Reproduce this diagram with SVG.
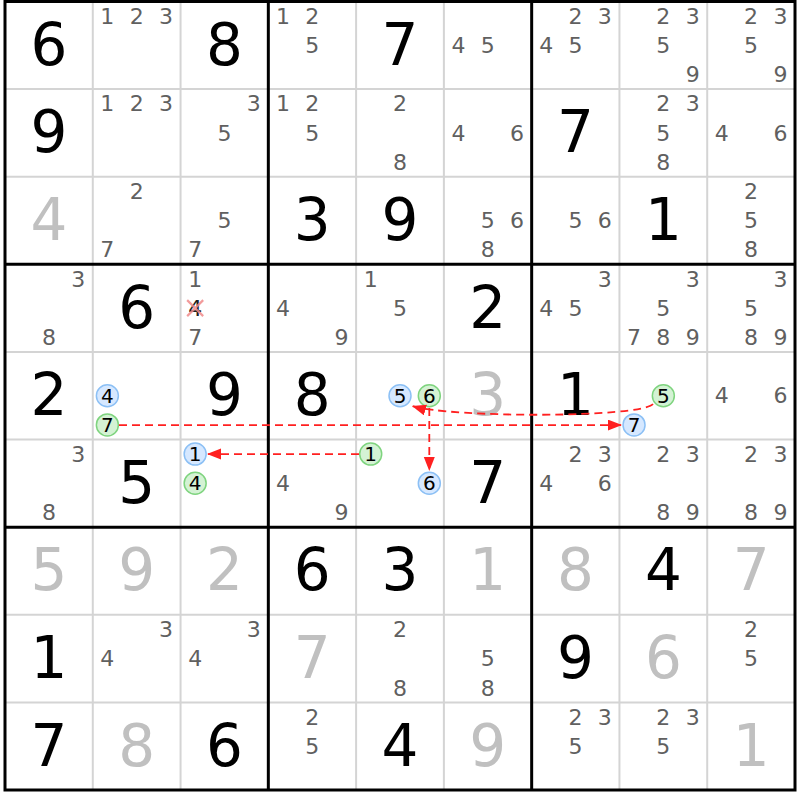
<svg xmlns="http://www.w3.org/2000/svg" width="800" height="800" viewBox="0 0 800 800">
<defs>
<style>
text{font-family:"DejaVu Sans","Liberation Sans",sans-serif;text-anchor:middle}
.g{font-size:58px;fill:#000}
.s{font-size:58px;fill:#c0c0c0}
.c{font-size:22px;fill:#606060}
.cc{font-size:20px;fill:#000}
.thin{stroke:#d4d4d4;stroke-width:2}
.thick{stroke:#000;stroke-width:3}
.blue{fill:#d6e8ff;stroke:#8cc0f5;stroke-width:1.5}
.green{fill:#d4f2d4;stroke:#7fd47f;stroke-width:1.5}
.link{fill:none;stroke:#ff2020;stroke-width:1.8;stroke-dasharray:8 5;marker-end:url(#ah)}
</style>
<marker id="ah" markerUnits="userSpaceOnUse" markerWidth="15" markerHeight="12" refX="14" refY="5.5" orient="auto"><path d="M0,0 L14,5.5 L0,11 z" fill="#ff2020"/></marker>
</defs>
<rect width="800" height="800" fill="#fff"/>
<g id="grid-thin" class="thin">
<line x1="92.78" y1="1.5" x2="92.78" y2="790"/><line x1="180.56" y1="1.5" x2="180.56" y2="790"/>
<line x1="356.11" y1="1.5" x2="356.11" y2="790"/><line x1="443.89" y1="1.5" x2="443.89" y2="790"/>
<line x1="619.44" y1="1.5" x2="619.44" y2="790"/><line x1="707.22" y1="1.5" x2="707.22" y2="790"/>
<line x1="5" y1="89.1" x2="795" y2="89.1"/><line x1="5" y1="176.7" x2="795" y2="176.7"/>
<line x1="5" y1="351.9" x2="795" y2="351.9"/><line x1="5" y1="439.5" x2="795" y2="439.5"/>
<line x1="5" y1="614.8" x2="795" y2="614.8"/><line x1="5" y1="702.4" x2="795" y2="702.4"/>
</g>
<g id="grid-thick" class="thick">
<line x1="268.33" y1="1.5" x2="268.33" y2="790"/><line x1="531.67" y1="1.5" x2="531.67" y2="790"/>
<line x1="5" y1="264.3" x2="795" y2="264.3"/><line x1="5" y1="527.2" x2="795" y2="527.2"/>
<rect x="5" y="1.5" width="790" height="788.5" fill="none"/>
</g>

<!-- Row 0 -->
<g id="r0c0" transform="translate(5,1.5)"><text class="g" x="43.9" y="63.3">6</text></g>
<g id="r0c1" transform="translate(92.78,1.5)"><text class="c" x="14.6" y="22.4">1</text><text class="c" x="43.9" y="22.4">2</text><text class="c" x="73.2" y="22.4">3</text></g>
<g id="r0c2" transform="translate(180.56,1.5)"><text class="g" x="43.9" y="63.3">8</text></g>
<g id="r0c3" transform="translate(268.33,1.5)"><text class="c" x="14.6" y="22.4">1</text><text class="c" x="43.9" y="22.4">2</text><text class="c" x="43.9" y="51.6">5</text></g>
<g id="r0c4" transform="translate(356.11,1.5)"><text class="g" x="43.9" y="63.3">7</text></g>
<g id="r0c5" transform="translate(443.89,1.5)"><text class="c" x="14.6" y="51.6">4</text><text class="c" x="43.9" y="51.6">5</text></g>
<g id="r0c6" transform="translate(531.67,1.5)"><text class="c" x="43.9" y="22.4">2</text><text class="c" x="73.2" y="22.4">3</text><text class="c" x="14.6" y="51.6">4</text><text class="c" x="43.9" y="51.6">5</text></g>
<g id="r0c7" transform="translate(619.44,1.5)"><text class="c" x="43.9" y="22.4">2</text><text class="c" x="73.2" y="22.4">3</text><text class="c" x="43.9" y="51.6">5</text><text class="c" x="73.2" y="80.8">9</text></g>
<g id="r0c8" transform="translate(707.22,1.5)"><text class="c" x="43.9" y="22.4">2</text><text class="c" x="73.2" y="22.4">3</text><text class="c" x="43.9" y="51.6">5</text><text class="c" x="73.2" y="80.8">9</text></g>

<!-- Row 1 -->
<g id="r1c0" transform="translate(5,89.1)"><text class="g" x="43.9" y="63.3">9</text></g>
<g id="r1c1" transform="translate(92.78,89.1)"><text class="c" x="14.6" y="22.4">1</text><text class="c" x="43.9" y="22.4">2</text><text class="c" x="73.2" y="22.4">3</text></g>
<g id="r1c2" transform="translate(180.56,89.1)"><text class="c" x="73.2" y="22.4">3</text><text class="c" x="43.9" y="51.6">5</text></g>
<g id="r1c3" transform="translate(268.33,89.1)"><text class="c" x="14.6" y="22.4">1</text><text class="c" x="43.9" y="22.4">2</text><text class="c" x="43.9" y="51.6">5</text></g>
<g id="r1c4" transform="translate(356.11,89.1)"><text class="c" x="43.9" y="22.4">2</text><text class="c" x="43.9" y="80.8">8</text></g>
<g id="r1c5" transform="translate(443.89,89.1)"><text class="c" x="14.6" y="51.6">4</text><text class="c" x="73.2" y="51.6">6</text></g>
<g id="r1c6" transform="translate(531.67,89.1)"><text class="g" x="43.9" y="63.3">7</text></g>
<g id="r1c7" transform="translate(619.44,89.1)"><text class="c" x="43.9" y="22.4">2</text><text class="c" x="73.2" y="22.4">3</text><text class="c" x="43.9" y="51.6">5</text><text class="c" x="43.9" y="80.8">8</text></g>
<g id="r1c8" transform="translate(707.22,89.1)"><text class="c" x="14.6" y="51.6">4</text><text class="c" x="73.2" y="51.6">6</text></g>

<!-- Row 2 -->
<g id="r2c0" transform="translate(5,176.7)"><text class="s" x="43.9" y="63.3">4</text></g>
<g id="r2c1" transform="translate(92.78,176.7)"><text class="c" x="43.9" y="22.4">2</text><text class="c" x="14.6" y="80.8">7</text></g>
<g id="r2c2" transform="translate(180.56,176.7)"><text class="c" x="43.9" y="51.6">5</text><text class="c" x="14.6" y="80.8">7</text></g>
<g id="r2c3" transform="translate(268.33,176.7)"><text class="g" x="43.9" y="63.3">3</text></g>
<g id="r2c4" transform="translate(356.11,176.7)"><text class="g" x="43.9" y="63.3">9</text></g>
<g id="r2c5" transform="translate(443.89,176.7)"><text class="c" x="43.9" y="51.6">5</text><text class="c" x="73.2" y="51.6">6</text><text class="c" x="43.9" y="80.8">8</text></g>
<g id="r2c6" transform="translate(531.67,176.7)"><text class="c" x="43.9" y="51.6">5</text><text class="c" x="73.2" y="51.6">6</text></g>
<g id="r2c7" transform="translate(619.44,176.7)"><text class="g" x="43.9" y="63.3">1</text></g>
<g id="r2c8" transform="translate(707.22,176.7)"><text class="c" x="43.9" y="22.4">2</text><text class="c" x="43.9" y="51.6">5</text><text class="c" x="43.9" y="80.8">8</text></g>

<!-- Row 3 -->
<g id="r3c0" transform="translate(5,264.3)"><text class="c" x="73.2" y="22.4">3</text><text class="c" x="43.9" y="80.8">8</text></g>
<g id="r3c1" transform="translate(92.78,264.3)"><text class="g" x="43.9" y="63.3">6</text></g>
<g id="r3c2" transform="translate(180.56,264.3)"><text class="c" x="14.6" y="22.4">1</text><text class="c" x="14.6" y="51.6" style="fill:#202020">4</text><path d="M6.6,35.8 L22.6,51.8 M22.6,35.8 L6.6,51.8" stroke="#f08a8a" stroke-width="2.2" fill="none" opacity="0.85"/><text class="c" x="14.6" y="80.8">7</text></g>
<g id="r3c3" transform="translate(268.33,264.3)"><text class="c" x="14.6" y="51.6">4</text><text class="c" x="73.2" y="80.8">9</text></g>
<g id="r3c4" transform="translate(356.11,264.3)"><text class="c" x="14.6" y="22.4">1</text><text class="c" x="43.9" y="51.6">5</text></g>
<g id="r3c5" transform="translate(443.89,264.3)"><text class="g" x="43.9" y="63.3">2</text></g>
<g id="r3c6" transform="translate(531.67,264.3)"><text class="c" x="73.2" y="22.4">3</text><text class="c" x="14.6" y="51.6">4</text><text class="c" x="43.9" y="51.6">5</text></g>
<g id="r3c7" transform="translate(619.44,264.3)"><text class="c" x="73.2" y="22.4">3</text><text class="c" x="43.9" y="51.6">5</text><text class="c" x="14.6" y="80.8">7</text><text class="c" x="43.9" y="80.8">8</text><text class="c" x="73.2" y="80.8">9</text></g>
<g id="r3c8" transform="translate(707.22,264.3)"><text class="c" x="73.2" y="22.4">3</text><text class="c" x="43.9" y="51.6">5</text><text class="c" x="43.9" y="80.8">8</text><text class="c" x="73.2" y="80.8">9</text></g>

<!-- Row 4 -->
<g id="r4c0" transform="translate(5,351.9)"><text class="g" x="43.9" y="63.3">2</text></g>
<g id="r4c1" transform="translate(92.78,351.9)"><circle class="blue" cx="14.6" cy="43.8" r="11"/><text class="cc" x="14.6" y="50.9">4</text><circle class="green" cx="14.6" cy="73" r="11"/><text class="cc" x="14.6" y="80.1">7</text></g>
<g id="r4c2" transform="translate(180.56,351.9)"><text class="g" x="43.9" y="63.3">9</text></g>
<g id="r4c3" transform="translate(268.33,351.9)"><text class="g" x="43.9" y="63.3">8</text></g>
<g id="r4c4" transform="translate(356.11,351.9)"><circle class="blue" cx="43.9" cy="43.8" r="11"/><text class="cc" x="43.9" y="50.9">5</text><circle class="green" cx="73.2" cy="43.8" r="11"/><text class="cc" x="73.2" y="50.9">6</text></g>
<g id="r4c5" transform="translate(443.89,351.9)"><text class="s" x="43.9" y="63.3">3</text></g>
<g id="r4c6" transform="translate(531.67,351.9)"><text class="g" x="43.9" y="63.3">1</text></g>
<g id="r4c7" transform="translate(619.44,351.9)"><circle class="green" cx="43.9" cy="43.8" r="11"/><text class="cc" x="43.9" y="50.9">5</text><circle class="blue" cx="14.6" cy="73" r="11"/><text class="cc" x="14.6" y="80.1">7</text></g>
<g id="r4c8" transform="translate(707.22,351.9)"><text class="c" x="14.6" y="51.6">4</text><text class="c" x="73.2" y="51.6">6</text></g>

<!-- Row 5 -->
<g id="r5c0" transform="translate(5,439.5)"><text class="c" x="73.2" y="22.4">3</text><text class="c" x="43.9" y="80.8">8</text></g>
<g id="r5c1" transform="translate(92.78,439.5)"><text class="g" x="43.9" y="63.3">5</text></g>
<g id="r5c2" transform="translate(180.56,439.5)"><circle class="blue" cx="14.6" cy="14.6" r="11"/><text class="cc" x="14.6" y="21.7">1</text><circle class="green" cx="14.6" cy="43.8" r="11"/><text class="cc" x="14.6" y="50.9">4</text></g>
<g id="r5c3" transform="translate(268.33,439.5)"><text class="c" x="14.6" y="51.6">4</text><text class="c" x="73.2" y="80.8">9</text></g>
<g id="r5c4" transform="translate(356.11,439.5)"><circle class="green" cx="14.6" cy="14.6" r="11"/><text class="cc" x="14.6" y="21.7">1</text><circle class="blue" cx="73.2" cy="43.8" r="11"/><text class="cc" x="73.2" y="50.9">6</text></g>
<g id="r5c5" transform="translate(443.89,439.5)"><text class="g" x="43.9" y="63.3">7</text></g>
<g id="r5c6" transform="translate(531.67,439.5)"><text class="c" x="43.9" y="22.4">2</text><text class="c" x="73.2" y="22.4">3</text><text class="c" x="14.6" y="51.6">4</text><text class="c" x="73.2" y="51.6">6</text></g>
<g id="r5c7" transform="translate(619.44,439.5)"><text class="c" x="43.9" y="22.4">2</text><text class="c" x="73.2" y="22.4">3</text><text class="c" x="43.9" y="80.8">8</text><text class="c" x="73.2" y="80.8">9</text></g>
<g id="r5c8" transform="translate(707.22,439.5)"><text class="c" x="43.9" y="22.4">2</text><text class="c" x="73.2" y="22.4">3</text><text class="c" x="43.9" y="80.8">8</text><text class="c" x="73.2" y="80.8">9</text></g>

<!-- Row 6 -->
<g id="r6c0" transform="translate(5,527.2)"><text class="s" x="43.9" y="63.3">5</text></g>
<g id="r6c1" transform="translate(92.78,527.2)"><text class="s" x="43.9" y="63.3">9</text></g>
<g id="r6c2" transform="translate(180.56,527.2)"><text class="s" x="43.9" y="63.3">2</text></g>
<g id="r6c3" transform="translate(268.33,527.2)"><text class="g" x="43.9" y="63.3">6</text></g>
<g id="r6c4" transform="translate(356.11,527.2)"><text class="g" x="43.9" y="63.3">3</text></g>
<g id="r6c5" transform="translate(443.89,527.2)"><text class="s" x="43.9" y="63.3">1</text></g>
<g id="r6c6" transform="translate(531.67,527.2)"><text class="s" x="43.9" y="63.3">8</text></g>
<g id="r6c7" transform="translate(619.44,527.2)"><text class="g" x="43.9" y="63.3">4</text></g>
<g id="r6c8" transform="translate(707.22,527.2)"><text class="s" x="43.9" y="63.3">7</text></g>

<!-- Row 7 -->
<g id="r7c0" transform="translate(5,614.8)"><text class="g" x="43.9" y="63.3">1</text></g>
<g id="r7c1" transform="translate(92.78,614.8)"><text class="c" x="73.2" y="22.4">3</text><text class="c" x="14.6" y="51.6">4</text></g>
<g id="r7c2" transform="translate(180.56,614.8)"><text class="c" x="73.2" y="22.4">3</text><text class="c" x="14.6" y="51.6">4</text></g>
<g id="r7c3" transform="translate(268.33,614.8)"><text class="s" x="43.9" y="63.3">7</text></g>
<g id="r7c4" transform="translate(356.11,614.8)"><text class="c" x="43.9" y="22.4">2</text><text class="c" x="43.9" y="80.8">8</text></g>
<g id="r7c5" transform="translate(443.89,614.8)"><text class="c" x="43.9" y="51.6">5</text><text class="c" x="43.9" y="80.8">8</text></g>
<g id="r7c6" transform="translate(531.67,614.8)"><text class="g" x="43.9" y="63.3">9</text></g>
<g id="r7c7" transform="translate(619.44,614.8)"><text class="s" x="43.9" y="63.3">6</text></g>
<g id="r7c8" transform="translate(707.22,614.8)"><text class="c" x="43.9" y="22.4">2</text><text class="c" x="43.9" y="51.6">5</text></g>

<!-- Row 8 -->
<g id="r8c0" transform="translate(5,702.4)"><text class="g" x="43.9" y="63.3">7</text></g>
<g id="r8c1" transform="translate(92.78,702.4)"><text class="s" x="43.9" y="63.3">8</text></g>
<g id="r8c2" transform="translate(180.56,702.4)"><text class="g" x="43.9" y="63.3">6</text></g>
<g id="r8c3" transform="translate(268.33,702.4)"><text class="c" x="43.9" y="22.4">2</text><text class="c" x="43.9" y="51.6">5</text></g>
<g id="r8c4" transform="translate(356.11,702.4)"><text class="g" x="43.9" y="63.3">4</text></g>
<g id="r8c5" transform="translate(443.89,702.4)"><text class="s" x="43.9" y="63.3">9</text></g>
<g id="r8c6" transform="translate(531.67,702.4)"><text class="c" x="43.9" y="22.4">2</text><text class="c" x="73.2" y="22.4">3</text><text class="c" x="43.9" y="51.6">5</text></g>
<g id="r8c7" transform="translate(619.44,702.4)"><text class="c" x="43.9" y="22.4">2</text><text class="c" x="73.2" y="22.4">3</text><text class="c" x="43.9" y="51.6">5</text></g>
<g id="r8c8" transform="translate(707.22,702.4)"><text class="s" x="43.9" y="63.3">1</text></g>

<g id="connectors">
<path class="link" d="M119,425.1 L622,425.1"/>
<path class="link" d="M359,454.1 L207,454.1"/>
<path class="link" d="M429.3,408 L429.3,471"/>
<path class="link" d="M653,404 C640,418 452,418 412,406"/>
</g>
</svg>
